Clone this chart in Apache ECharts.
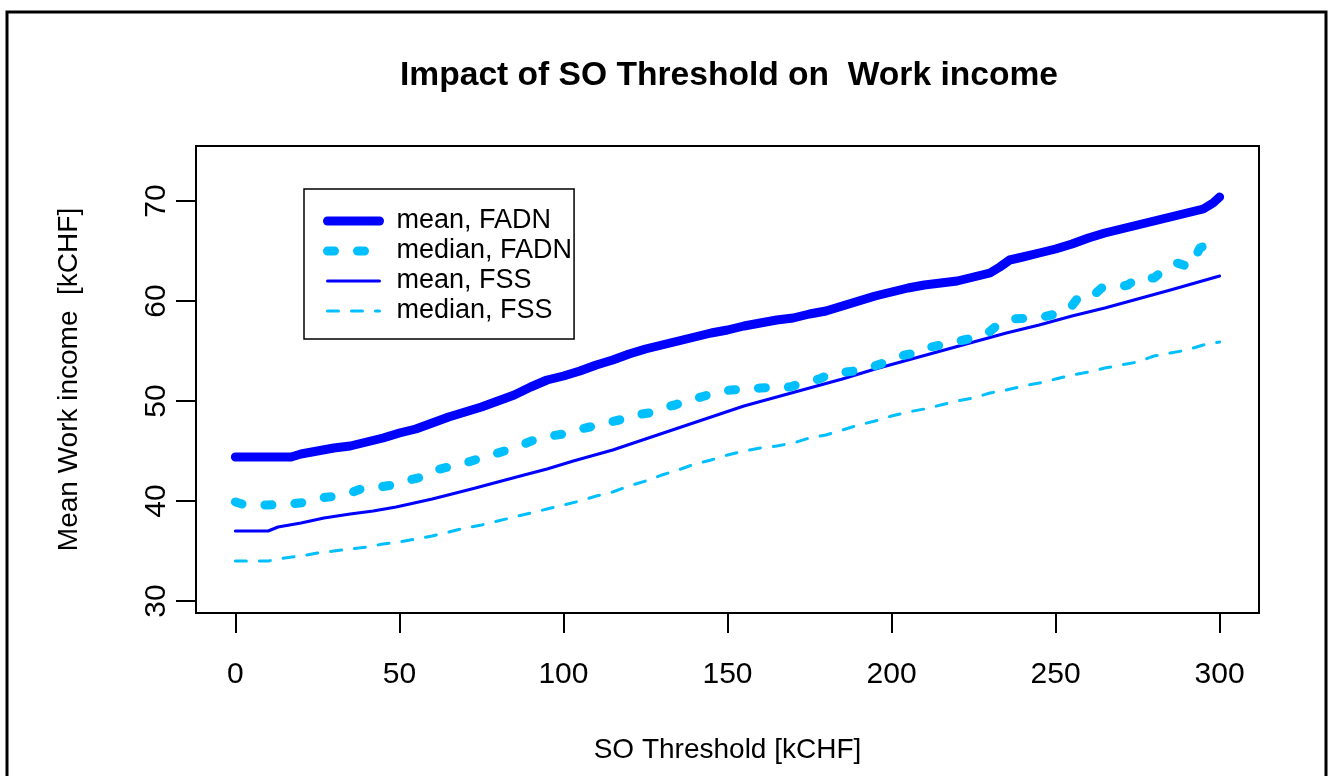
<!DOCTYPE html>
<html>
<head>
<meta charset="utf-8">
<script src="https://cdn.jsdelivr.net/npm/echarts@6/dist/echarts.min.js"></script>
<style>
html,body{margin:0;padding:0;background:#fff;}
#chart{width:1330px;height:776px;}
</style>
</head>
<body>
<div id="chart"></div>
<script>
// ---- data ----
const titleText = 'Impact of SO Threshold on  Work income';
const xAxisName = 'SO Threshold [kCHF]';
const yAxisName = 'Mean Work income  [kCHF]';
const xTicks = [0, 50, 100, 150, 200, 250, 300];
const yTicks = [30, 40, 50, 60, 70];
const seriesNames = ['mean, FADN', 'median, FADN', 'mean, FSS', 'median, FSS'];

const meanFadnX = [0,17,20,25,30,35,40,45,50,55,60,65,70,75,80,85,90,95,100,105,110,115,120,125,130,135,140,145,150,155,160,165,170,175,180,185,190,195,200,205,210,215,220,225,230,233,236,240,245,250,255,260,265,270,275,280,285,290,295,298,300];
const meanFadnY = [44.4,44.4,44.7,45.0,45.3,45.5,45.9,46.3,46.8,47.2,47.8,48.4,48.9,49.4,50.0,50.6,51.4,52.1,52.5,53.0,53.6,54.1,54.7,55.2,55.6,56.0,56.4,56.8,57.1,57.5,57.8,58.1,58.3,58.7,59.0,59.5,60.0,60.5,60.9,61.3,61.6,61.8,62.0,62.4,62.8,63.4,64.1,64.4,64.8,65.2,65.7,66.3,66.8,67.2,67.6,68.0,68.4,68.8,69.2,69.8,70.4];

const medianFadnX = [0,3,10,17,22,26,31,35,39,44,48,53,57,61,65,70,74,79,83,88,91,96,100,104,108,113,117,122,126,130,134,138,142,147,151,156,160,165,169,174,178,182,186,191,194,200,204,209,212,218,222,226,229,233,237,242,246,250,254,257,261,264,268,272,275,280,283,287,291,294,297,300];
const medianFadnY = [39.9,39.6,39.6,39.7,39.9,40.3,40.5,40.8,41.3,41.4,41.6,42.1,42.4,43.1,43.4,43.8,44.2,44.7,45.1,45.7,46.1,46.5,46.7,47.1,47.4,47.8,48.1,48.6,48.8,49.3,49.6,50.1,50.4,50.9,51.1,51.2,51.3,51.4,51.4,51.9,52.2,52.8,52.9,53.1,53.4,54.1,54.6,54.9,55.4,55.8,56.1,56.4,56.7,57.8,58.2,58.3,58.4,58.7,59.1,60.4,60.4,61.3,61.3,61.6,62.3,62.3,63.1,63.8,63.4,65.3,65.8,66.2];

const meanFssX = [0,10,13,20,27,35,42,49,60,72,80,88,95,103,115,125,135,145,155,165,175,185,195,205,215,225,235,245,255,265,275,285,300];
const meanFssY = [37.0,37.0,37.4,37.8,38.3,38.7,39.0,39.4,40.2,41.2,41.9,42.6,43.2,44.0,45.1,46.2,47.3,48.4,49.5,50.4,51.3,52.2,53.2,54.1,55.0,55.9,56.8,57.6,58.5,59.3,60.2,61.1,62.5];

const medianFssX = [0,10,15,20,25,30,35,40,45,50,55,60,65,70,75,80,85,90,95,100,105,110,115,120,125,130,135,140,145,150,155,160,165,170,175,180,185,190,195,200,205,210,215,220,225,230,235,240,245,250,255,260,265,270,275,280,285,290,295,300];
const medianFssY = [34.0,34.0,34.3,34.5,34.8,35.0,35.2,35.4,35.7,35.9,36.2,36.5,36.9,37.3,37.6,38.0,38.4,38.8,39.2,39.6,40.0,40.5,40.9,41.5,42.0,42.6,43.1,43.7,44.1,44.6,45.0,45.3,45.5,45.8,46.3,46.6,47.1,47.6,48.0,48.5,48.9,49.2,49.6,50.0,50.3,50.8,51.1,51.5,51.8,52.2,52.6,52.9,53.3,53.6,53.9,54.5,54.8,55.1,55.6,55.9];

// ---- build ----
const zip = (xs, ys) => xs.map((x, i) => [x, ys[i]]);
const BLUE = '#0000FF';
const SKY = '#00BFFF';
const FONT = 'Liberation Sans, Arial, sans-serif';

const styles = [
  { color: BLUE, width: 9, type: 'solid' },
  { color: SKY, width: 9, type: [7, 23] },
  { color: BLUE, width: 3, type: 'solid' },
  { color: SKY, width: 3, type: [11, 13] }
];
const dataSets = [zip(meanFadnX, meanFadnY), zip(medianFadnX, medianFadnY), zip(meanFssX, meanFssY), zip(medianFssX, medianFssY)];

const chart = echarts.init(document.getElementById('chart'), null, { renderer: 'canvas' });
chart.setOption({
  animation: false,
  backgroundColor: '#fff',
  title: {
    text: titleText,
    left: 724, top: 54, textAlign: 'center',
    textStyle: { fontFamily: FONT, fontSize: 33.6, fontWeight: 'bold', color: '#000' }
  },
  graphic: [{
    type: 'rect', silent: true,
    shape: { x: 7, y: 12, width: 1319, height: 820 },
    style: { fill: 'none', stroke: '#000', lineWidth: 3 }
  }],
  legend: {
    orient: 'vertical',
    left: 304, top: 189,
    padding: [17, 2, 13, 19],
    itemGap: 0,
    itemWidth: 52, itemHeight: 14,
    borderColor: '#000', borderWidth: 1.5,
    textStyle: { fontFamily: FONT, fontSize: 27, color: '#000', lineHeight: 30, padding: [0, 0, 0, 12] },
    data: seriesNames.map((n, i) => ({
      name: n,
      itemStyle: { opacity: 0 },
      lineStyle: { color: styles[i].color, width: styles[i].width, type: styles[i].type, cap: 'round' }
    }))
  },
  grid: {
    left: 196, top: 146, width: 1063, height: 467,
    show: true, borderColor: '#000', borderWidth: 2, backgroundColor: 'transparent'
  },
  xAxis: {
    type: 'value', min: -12, max: 312,
    name: xAxisName, nameLocation: 'middle', nameGap: 123,
    nameTextStyle: { fontFamily: FONT, fontSize: 28, color: '#000' },
    axisLine: { show: true, onZero: false, lineStyle: { color: '#000', width: 2 } },
    axisTick: { show: true, customValues: xTicks, length: 20, lineStyle: { color: '#000', width: 2 } },
    axisLabel: { customValues: xTicks, margin: 47, fontFamily: FONT, fontSize: 30, color: '#000' },
    splitLine: { show: false }
  },
  yAxis: {
    type: 'value', min: 28.8, max: 75.5,
    name: yAxisName, nameLocation: 'middle', nameGap: 113,
    nameTextStyle: { fontFamily: FONT, fontSize: 28, color: '#000' },
    axisLine: { show: true, onZero: false, lineStyle: { color: '#000', width: 2 } },
    axisTick: { show: true, customValues: yTicks, length: 20, lineStyle: { color: '#000', width: 2 } },
    axisLabel: { customValues: yTicks, rotate: 90, margin: 24, fontFamily: FONT, fontSize: 30, color: '#000' },
    splitLine: { show: false }
  },
  series: seriesNames.map((n, i) => ({
    name: n, type: 'line', data: dataSets[i],
    symbol: 'none', showSymbol: false, smooth: false,
    z: 10 - i,
    lineStyle: { color: styles[i].color, width: styles[i].width, type: styles[i].type, cap: 'round', join: 'round' },
    itemStyle: { color: styles[i].color }
  }))
});
</script>
</body>
</html>
